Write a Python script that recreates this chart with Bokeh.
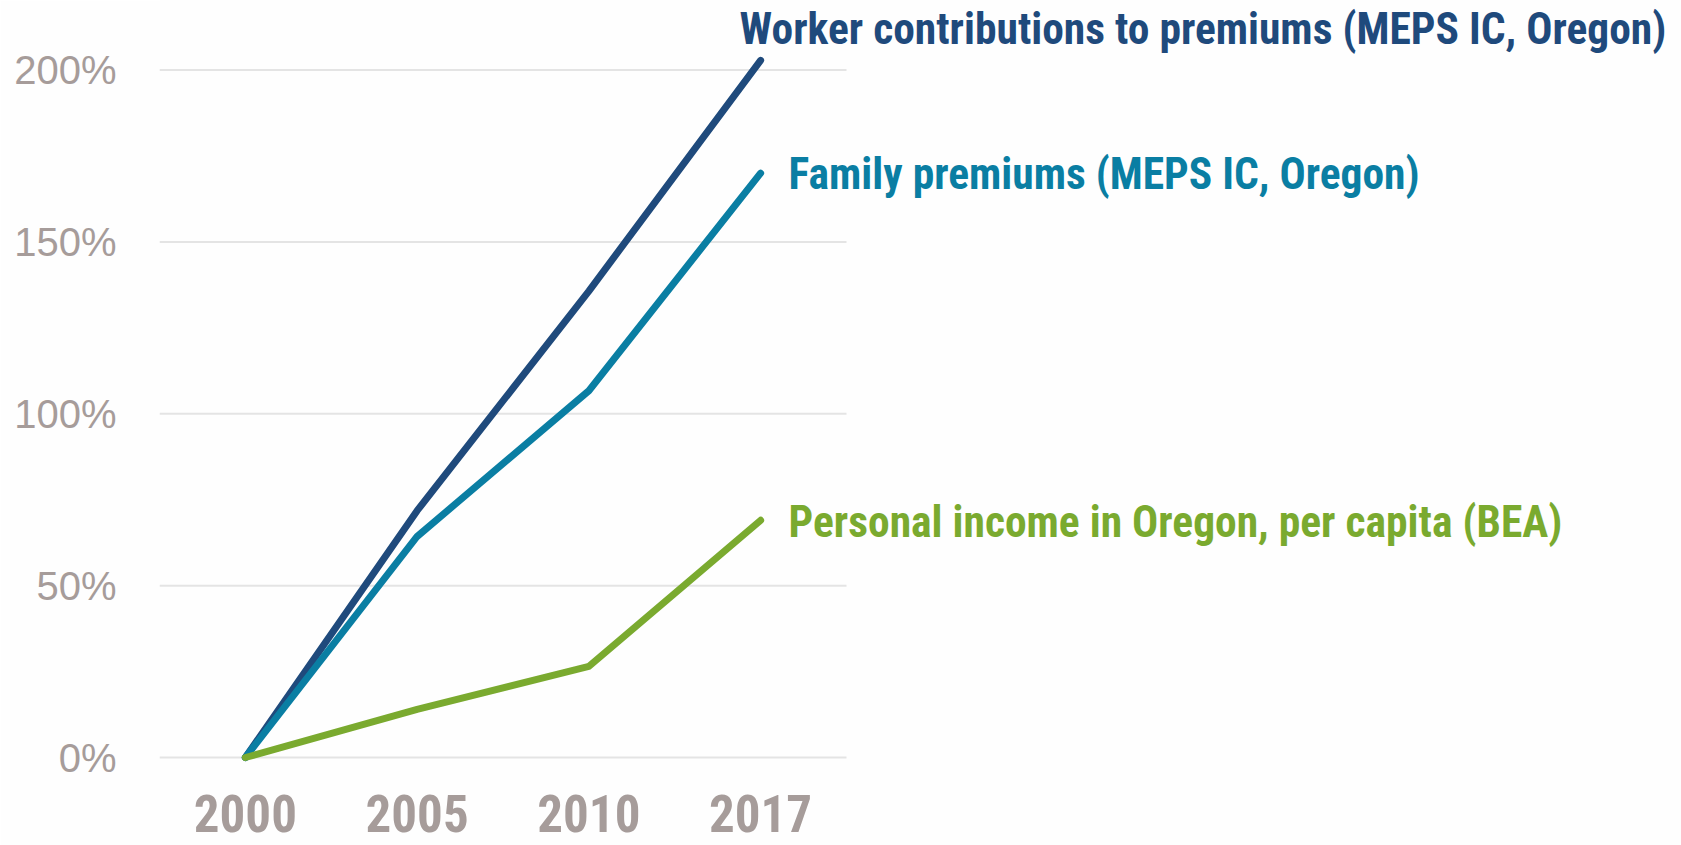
from bokeh.plotting import figure
from bokeh.models import Range1d, FixedTicker, ColumnDataSource
from bokeh.core.properties import value
from bokeh.embed import file_html
from bokeh.resources import INLINE

years = ["2000", "2005", "2010", "2017"]
worker = [0, 71.8, 135.7, 202.8]
family = [0, 64.3, 106.7, 170.0]
income = [0, 14.0, 26.5, 69.0]
y_ticks = [0, 50, 100, 150, 200]

series_names = [
    "Worker contributions to premiums (MEPS IC, Oregon)",
    "Family premiums (MEPS IC, Oregon)",
    "Personal income in Oregon, per capita (BEA)",
]
colors = ["#1F4A7C", "#0A7EA3", "#7AAA2F"]
label_offsets = [(-21, 31), (28, -1), (28, -2)]

xs = list(range(len(years)))

p = figure(
    frame_width=1522, frame_height=765,
    min_border_left=159, min_border_right=0, min_border_top=0, min_border_bottom=80,
    x_range=Range1d(-0.5, 8.362), y_range=Range1d(-2.327, 220.22),
    output_backend="svg", toolbar_location=None,
)
p.background_fill_color = "#FEFEFE"
p.border_fill_color = "#FEFEFE"
p.outline_line_color = None
p.xgrid.grid_line_color = None
p.ygrid.grid_line_color = None

# horizontal gridlines limited to the category span
p.segment(x0=[-0.5] * len(y_ticks), x1=[len(years) - 0.5] * len(y_ticks), y0=y_ticks, y1=y_ticks,
          line_color="#E4E4E4", line_width=2)

p.yaxis.ticker = FixedTicker(ticks=y_ticks)
p.yaxis.major_label_overrides = {t: f"{t}%" for t in y_ticks}
p.yaxis.axis_line_color = None
p.yaxis.major_tick_line_color = None
p.yaxis.minor_tick_line_color = None
p.yaxis.major_label_standoff = 37
p.yaxis.major_label_text_font = "Liberation Sans"
p.yaxis.major_label_text_font_size = "40px"
p.yaxis.major_label_text_color = "#A69C9A"

p.xaxis.ticker = FixedTicker(ticks=xs)
p.xaxis.major_label_overrides = {i: y for i, y in enumerate(years)}
p.xaxis.axis_line_color = None
p.xaxis.major_tick_line_color = None
p.xaxis.minor_tick_line_color = None
p.xaxis.major_label_standoff = 23
p.xaxis.major_label_text_font = "Roboto Condensed"
p.xaxis.major_label_text_font_style = "bold"
p.xaxis.major_label_text_font_size = "51px"
p.xaxis.major_label_text_color = "#A69C9A"

for vals, color, name, (dx, dy) in zip([worker, family, income], colors, series_names, label_offsets):
    src = ColumnDataSource(dict(x=xs, y=vals))
    p.line("x", "y", source=src, line_color=color, line_width=7, line_cap="round", line_join="round")
    p.text(x=[xs[-1]], y=[vals[-1]], text=[name], x_offset=dx, y_offset=-dy,
           text_font=value("Roboto Condensed"), text_font_style="bold",
           text_font_size="43.5px", text_color=color, text_baseline="middle", text_align="left")

open("out.html", "w").write(file_html(p, INLINE))
